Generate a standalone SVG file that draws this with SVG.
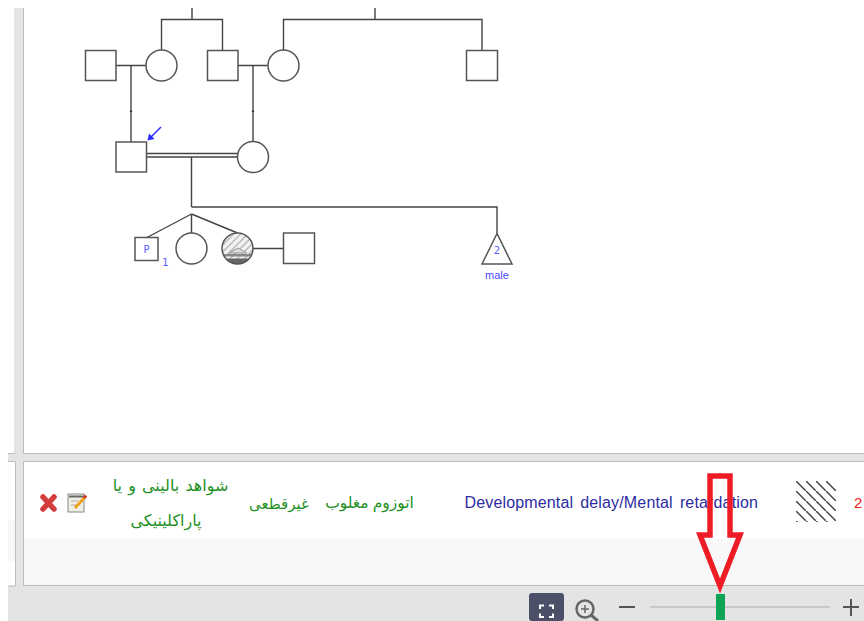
<svg xmlns="http://www.w3.org/2000/svg" width="864" height="621" viewBox="0 0 864 621">
<style>
.l{fill:none;stroke:#444;stroke-width:1.4}
.s{fill:#fff;stroke:#555;stroke-width:1.5}
.b{font-family:"DejaVu Sans",sans-serif;fill:#5a5aff;text-anchor:middle;font-size:10px}
.m{font-family:"Liberation Sans",sans-serif;fill:#4a4aff;text-anchor:middle;font-size:11px}
.g{font-family:"Noto Sans","DejaVu Sans",sans-serif;font-size:16px;fill:#1f8f1f;text-anchor:middle}
</style>
<defs>
<pattern id="h1" width="5" height="5" patternUnits="userSpaceOnUse" patternTransform="rotate(-45)"><rect width="5" height="5" fill="#f2f2f2"/><rect width="5" height="1.2" fill="#aaa"/></pattern>
<pattern id="h2" x="796" y="481" width="10" height="10" patternUnits="userSpaceOnUse"><rect width="10" height="10" fill="#fff"/><path d="M-2 -2L12 12" stroke="#444" stroke-width="1.500" fill="none"/></pattern>
<clipPath id="cc"><circle cx="237.500" cy="248.500" r="15.500"/></clipPath>
</defs>
<rect width="864" height="621" fill="#fff"/>
<g id="chrome">
<rect x="14" y="8" width="9" height="445" fill="#e4e4e4"/>
<rect x="8" y="453" width="856" height="168" fill="#e4e4e4"/>
<rect x="8" y="462" width="7" height="124" fill="#fff"/>
<rect x="8" y="520" width="7" height="42" fill="#f8f8f8"/>
<rect x="23" y="462" width="841" height="124" fill="#fff"/>
<rect x="24" y="539" width="840" height="46" fill="#f8f8f8"/>
<path d="M23.500 8V453.500H864M23.500 586V461.500H864M23 585.500H864M8 453.500H15.500M8 461.500H15.500V586H8" fill="none" stroke="#bdbdbd"/>
</g>
<g id="connectors">
<path class="l" d="M192 8V19.500M161.500 50V19.500H222.500V50M283.500 50V19.500H482V50M375 8V19.500M116 65.500H146M131 65.500V142M238 65.500H268M253 65.500V142M191.500 157V207M191.500 207H497V233M191.500 214L146 238M191.500 214V233M191.500 214L237.500 233M253 248.500H284"/>
<path d="M131 110.500V112M253 110.500V112" stroke="#333" stroke-width="2.200"/>
<path class="l" d="M146 153.500H238M146 157H238"/>
</g>
<g id="n1"><rect class="s" x="85.500" y="50.500" width="30.500" height="30"/></g>
<g id="n2"><circle class="s" cx="161.500" cy="65.500" r="15.500"/></g>
<g id="n3"><rect class="s" x="207.500" y="50.500" width="30.500" height="30"/></g>
<g id="n4"><circle class="s" cx="283.500" cy="65.500" r="15.500"/></g>
<g id="n5"><rect class="s" x="466.500" y="50.500" width="31" height="30"/></g>
<g id="n6"><rect class="s" x="116" y="142" width="30.500" height="30"/>
<path d="M161 127L150 138" stroke="#2a2aff" stroke-width="1.500" fill="none"/><path d="M147.500 140.500L149 133.500L154.500 139Z" fill="#2a2aff"/></g>
<g id="n7"><circle class="s" cx="253" cy="157" r="15.500"/></g>
<g id="n8"><rect class="s" x="135" y="237.500" width="23" height="23"/><text class="b" x="146.500" y="253">P</text><text class="b" x="165.500" y="266">1</text></g>
<g id="n9"><circle class="s" cx="191.500" cy="248.500" r="15.500"/></g>
<g id="n10"><circle cx="237.500" cy="248.500" r="15.500" fill="url(#h1)"/>
<g clip-path="url(#cc)"><rect x="222" y="254" width="31" height="2.500" fill="#888"/><rect x="222" y="258.500" width="31" height="6" fill="#666"/><path d="M229 253L238 248L247 253Z" fill="#ddd" stroke="#999"/></g>
<circle cx="237.500" cy="248.500" r="15.500" fill="none" stroke="#555" stroke-width="1.500"/></g>
<g id="n11"><rect class="s" x="283.500" y="233" width="31" height="30.500"/></g>
<g id="n12"><path class="s" d="M497 233.500L482 264H512Z"/><text class="b" x="497" y="254">2</text><text class="m" x="497" y="279">male</text></g>
<g id="row">
<path d="M43 497L54 509M54 497L43 509" stroke="#d23c3c" stroke-width="5.500" stroke-linecap="round"/>
<g id="edit"><rect x="68" y="494" width="16" height="18" fill="#f1efe4" stroke="#888"/><path d="M69 496.500H83" stroke="#666" stroke-width="2"/><path d="M71 501H78M71 505H76" stroke="#aaa"/><path d="M75 508L85 497" stroke="#eea020" stroke-width="3"/><path d="M84 498L86 495.500" stroke="#c8342c" stroke-width="3"/></g>
<text class="g" x="170.500" y="491" direction="rtl" word-spacing="2">شواهد بالینی و یا</text>
<text class="g" x="166" y="526" direction="rtl">پاراکلینیکی</text>
<text class="g" style="font-size:15px" x="279" y="509" direction="rtl">غیرقطعی</text>
<text class="g" style="font-size:15.500px" x="369.500" y="508" direction="rtl">اتوزوم مغلوب</text>
<text x="464.500" y="508" font-family="Liberation Sans,sans-serif" font-size="16" word-spacing="2.500" letter-spacing="0.150" fill="#2c2ca0">Developmental delay/Mental retardation</text>
<rect x="796" y="481" width="40" height="41" fill="url(#h2)"/>
<text x="854" y="508" font-family="Liberation Sans,sans-serif" font-size="15" fill="#f02020">2</text>
</g>
<g id="toolbar">
<rect x="529" y="593" width="35" height="28" rx="3" fill="#4b5068"/>
<path d="M540 609V605.500H544M549 605.500H553V609M553 613.500V617H549M544 617H540V613.500" fill="none" stroke="#fff" stroke-width="2"/>
<circle cx="585" cy="609" r="8.500" fill="none" stroke="#666" stroke-width="2.500"/><path d="M581 609H589M585 605V613" stroke="#666" stroke-width="1.500"/><path d="M591 615L598 621" stroke="#666" stroke-width="3"/>
<path d="M619 607H635" stroke="#555" stroke-width="2"/>
<rect x="650" y="606" width="180" height="2" fill="#c8c8c8"/>
<rect x="716" y="594" width="9" height="26" fill="#0ea355"/>
<path d="M843 607H859M851 599V616" stroke="#555" stroke-width="2"/>
</g>
<path id="redarrow" d="M710 476H730V535H740L720 586L700 535H710Z" fill="none" stroke="#ee1c25" stroke-width="5.500"/>
</svg>
